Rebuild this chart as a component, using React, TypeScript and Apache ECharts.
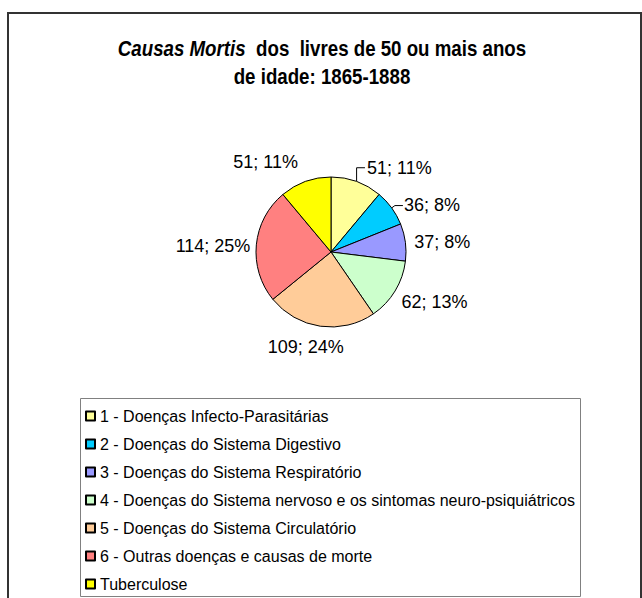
import React, { useEffect, useRef } from "react";
import * as echarts from "echarts";

// ---- data ----
const categories = [
  "1 - Doenças Infecto-Parasitárias",
  "2 - Doenças do Sistema Digestivo",
  "3 - Doenças do Sistema Respiratório",
  "4 - Doenças do Sistema nervoso e os sintomas neuro-psiquiátricos",
  "5 - Doenças do Sistema Circulatório",
  "6 - Outras doenças e causas de morte",
  "Tuberculose",
];
const values = [51, 36, 37, 62, 109, 114, 51];
const titleItalic = "Causas Mortis";
const titleRest = "  dos  livres de 50 ou mais anos";
const titleLine2 = "de idade: 1865-1888";

// ---- styles ----
const colors = ["#FFFF99", "#00CCFF", "#9999FF", "#CCFFCC", "#FFCC99", "#FF8080", "#FFFF00"];
const showLeader = [true, true, false, false, false, false, false];
const elbowLeader = [true, false, false, false, false, false, false];
const leaderLen2 = [4, 8, 4, 4, 4, 4, 4];
const labelOffsets: number[][] = [
  [0, -10],
  [-4, -1],
  [-4, 0],
  [-6, 9],
  [33, 17],
  [7, 2],
  [3, -16],
];
const FONT = "'Liberation Sans', Arial, Helvetica, sans-serif";

export default function App() {
  const ref = useRef<HTMLDivElement>(null);

  useEffect(() => {
    if (!ref.current) return;
    const chart = echarts.init(ref.current, undefined, { renderer: "svg" });
    const total = values.reduce((a, b) => a + b, 0);

    chart.setOption({
      animation: false,
      backgroundColor: "#ffffff",
      graphic: [
        {
          type: "text",
          x: 322,
          y: 34,
          scaleX: 0.85,
          silent: true,
          style: {
            text: `{i|${titleItalic}}{b|${titleRest}}\n{b|${titleLine2}}`,
            align: "center",
            verticalAlign: "top",
            rich: {
              i: { fontFamily: FONT, fontSize: 22, fontWeight: "bold", fontStyle: "italic", fill: "#000", lineHeight: 28 },
              b: { fontFamily: FONT, fontSize: 22, fontWeight: "bold", fill: "#000", lineHeight: 28 },
            },
          },
        },
        {
          type: "rect",
          shape: { x: 8, y: 13, width: 633, height: 620 },
          style: { fill: "none", stroke: "#333333", lineWidth: 2 },
          silent: true,
          z: 10,
        },
        {
          type: "rect",
          shape: { x: 80.5, y: 398.5, width: 500, height: 198 },
          style: { fill: "none", stroke: "#808080", lineWidth: 1 },
          silent: true,
          z: 10,
        },
      ],
      legend: {
        orient: "vertical",
        left: 80,
        top: 403,
        itemWidth: 9,
        itemHeight: 9,
        itemGap: 12,
        icon: "rect",
        selectedMode: false,
        data: categories,
        textStyle: { fontFamily: FONT, fontSize: 16, lineHeight: 16, color: "#000" },
      },
      series: [
        {
          type: "pie",
          center: [331, 252],
          radius: 75,
          startAngle: 90,
          clockwise: true,
          avoidLabelOverlap: false,
          itemStyle: { borderColor: "#000", borderWidth: 1 },
          label: {
            show: true,
            position: "outside",
            fontFamily: FONT,
            fontSize: 18,
            color: "#000",
            formatter: (p: any) => `${p.value}; ${Math.round((p.value / total) * 100)}%`,
          },
          labelLine: { show: true, length: 4, length2: 4, lineStyle: { color: "#000", width: 1 } },
          labelLayout: (params: any) => {
            const i = params.dataIndex;
            const o = labelOffsets[i] || [0, 0];
            const out: any = { dx: o[0], dy: o[1] };
            if (elbowLeader[i] && params.labelLinePoints && params.labelRect) {
              const start = params.labelLinePoints[0];
              const r = params.labelRect;
              const ly = r.y + o[1] + r.height / 2;
              const lx = r.x + o[0] - 2;
              out.labelLinePoints = [
                [start[0], start[1]],
                [start[0], ly],
                [lx, ly],
              ];
            }
            return out;
          },
          emphasis: { disabled: true },
          data: categories.map((name, i) => ({
            name,
            value: values[i],
            itemStyle: { color: colors[i] },
            labelLine: { show: showLeader[i], length2: leaderLen2[i] },
          })),
        },
      ],
    });

    return () => chart.dispose();
  }, []);

  return (
    <div
      ref={ref}
      style={{ position: "absolute", left: 0, top: 0, width: 642, height: 598, background: "#fff" }}
    />
  );
}
